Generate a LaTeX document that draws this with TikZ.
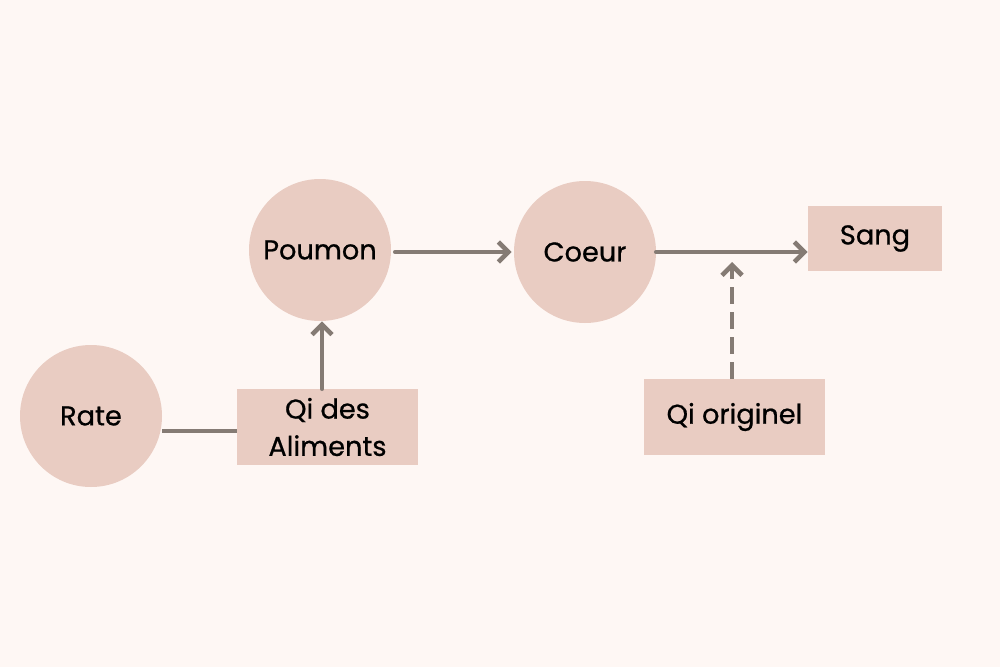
\documentclass[tikz,border=0pt]{standalone}
\usepackage{fontspec}
\setmainfont{Poppins}[FakeBold=0.7]
\usetikzlibrary{arrows.meta}
\definecolor{bg}{HTML}{FEF7F4}
\definecolor{boxfill}{HTML}{E9CCC2}
\definecolor{linec}{HTML}{857B74}
\tikzset{
  organ/.style={circle, fill=boxfill, minimum size=106.5pt, inner sep=0pt, font=\fontsize{20.4}{28}\selectfont},
  label box/.style={rectangle, fill=boxfill, inner sep=0pt, align=center, font=\fontsize{20.4}{28}\selectfont},
  conn/.style={draw=linec, line width=3.5pt, line cap=round},
  arr/.style={conn, -{Straight Barb[length=7.5pt,width=15pt,line width=3.5pt]}},
}
\begin{document}
\begin{tikzpicture}[x=0.75pt,y=-0.75pt]
\fill[bg] (0,0) rectangle (1000,667);
\useasboundingbox (0,0) rectangle (1000,667);
\node[organ] (rate) at (91,416) {Rate};
\node[organ] (poumon) at (320,250) {Poumon};
\node[organ] (coeur) at (585,252) {Coeur};
\node[label box, minimum width=100.5pt, minimum height=48.75pt] (sang) at (875,238.5) {\raisebox{-1.5pt}{Sang}};
\node[label box, minimum width=135.75pt, minimum height=57pt] (qia) at (327.5,427) {Qi des\\Aliments};
\node[label box, minimum width=135.75pt, minimum height=57pt] (qio) at (734.5,417) {Qi originel};
\coordinate (tip) at (732,262);
\draw[conn, line cap=butt] ([yshift=-11.25pt]rate.east) -- ([yshift=-3pt]qia.west);
\draw[arr] (qia.north -| 322,0) -- (poumon.south -| 322,0);
\draw[arr] ([xshift=3pt,yshift=-1.5pt]poumon.east) -- ([xshift=-1.5pt,yshift=0pt]coeur.west);
\draw[arr] (coeur.east) -- (coeur.east -| sang.west);
\draw[arr, dash pattern=on 12.75pt off 6pt, line cap=butt] (qio.north -| tip) -- (tip);
\end{tikzpicture}
\end{document}
